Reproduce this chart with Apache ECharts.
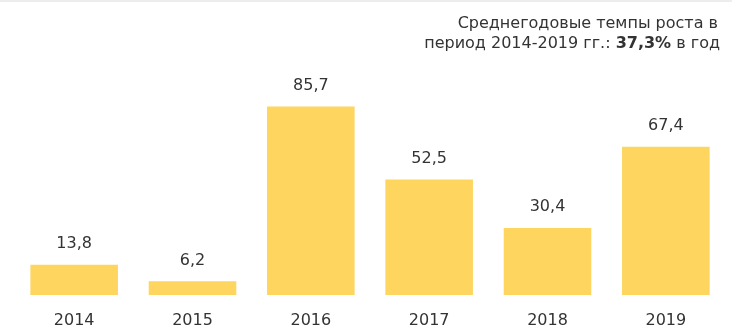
<!DOCTYPE html>
<html>
<head>
<meta charset="utf-8">
<script src="https://cdn.jsdelivr.net/npm/echarts@6/dist/echarts.min.js"></script>
<style>
  html, body { margin: 0; padding: 0; background: #ffffff; }
  #chart { width: 732px; height: 335px; }
</style>
</head>
<body>
<div id="chart"></div>
<script>
// Годы и значения показателя
const years = ['2014', '2015', '2016', '2017', '2018', '2019'];
const values = [13.8, 6.2, 85.7, 52.5, 30.4, 67.4];
const noteLine1 = 'Среднегодовые темпы роста в';
const noteLine2a = 'период 2014-2019 гг.: ';
const noteLine2b = '37,3%';
const noteLine2c = ' в год';

const fontFamily = 'DejaVu Sans';
const textColor = '#333333';

const chart = echarts.init(document.getElementById('chart'), null, { renderer: 'canvas' });

chart.setOption({
  animation: false,
  backgroundColor: '#ffffff',
  grid: { left: 15, right: 7, top: 75, bottom: 40 },
  xAxis: {
    type: 'category',
    data: years,
    axisLine: { show: false },
    axisTick: { show: false },
    axisLabel: {
      color: textColor,
      fontFamily: fontFamily,
      fontSize: 16,
      margin: 18
    }
  },
  yAxis: {
    type: 'value',
    min: 0,
    max: 100,
    show: false,
    splitLine: { show: false }
  },
  series: [{
    type: 'bar',
    data: values,
    barCategoryGap: '26%',
    itemStyle: { color: '#FDD55F' },
    label: {
      show: true,
      position: 'top',
      distance: 13,
      color: textColor,
      fontFamily: fontFamily,
      fontSize: 16,
      formatter: p => String(p.value).replace('.', ',')
    }
  }],
  graphic: [
    {
      type: 'line',
      shape: { x1: 0, y1: 1, x2: 732, y2: 1 },
      style: { stroke: '#ededed', lineWidth: 2 },
      silent: true
    },
    {
      type: 'text',
      right: 14,
      top: 16,
      style: {
        text: noteLine1,
        fill: textColor,
        fontFamily: fontFamily,
        fontSize: 16
      }
    },
    {
      type: 'text',
      right: 12,
      top: 36,
      style: {
        text: '{n|' + noteLine2a + '}{b|' + noteLine2b + '}{n|' + noteLine2c + '}',
        rich: {
          n: { fontFamily: fontFamily, fontSize: 16, fill: textColor },
          b: { fontFamily: fontFamily, fontSize: 16, fontWeight: 'bold', fill: textColor }
        }
      }
    }
  ]
});
</script>
</body>
</html>
